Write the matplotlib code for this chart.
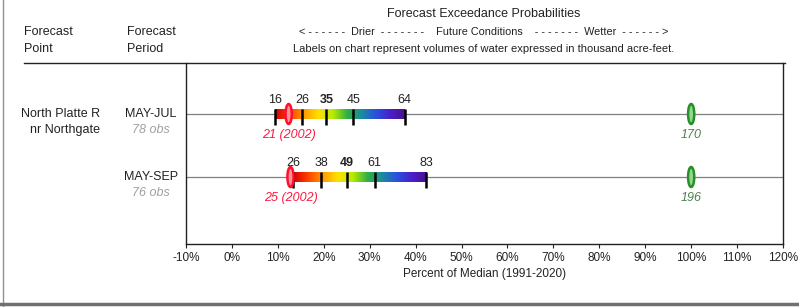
import matplotlib.pyplot as plt
import numpy as np
from matplotlib.colors import LinearSegmentedColormap
from matplotlib.patches import Ellipse

plt.rcParams['font.family'] = ['Liberation Sans', 'DejaVu Sans']

# forecast data (thousand acre-feet)
periods = ['MAY-JUL', 'MAY-SEP']
obs = ['78 obs', '76 obs']
exceed = [[16, 26, 35, 45, 64], [26, 38, 49, 61, 83]]
medians = [170, 196]
minimums = [21, 25]
min_years = [2002, 2002]
xticks = list(range(-10, 121, 10))

W, H = 799, 307
fig = plt.figure(figsize=(W / 100, H / 100), dpi=100)
ax = fig.add_axes([186 / W, 1 - 244 / H, (783 - 186) / W, (244 - 63) / H])
ax.set_xlim(-10, 120)
ax.set_ylim(244, 63)  # y in pixel units, top down

cmap = LinearSegmentedColormap.from_list(
    'wet', ['#d40000', '#ff4000', '#ff9a00', '#ffe000', '#b8ec00', '#30b040',
            '#1a8ca0', '#2a50e0', '#4a20c8', '#4a1090'])
grad = np.linspace(0, 1, 256).reshape(1, -1)

rows_y = [114, 177]
for i, y in enumerate(rows_y):
    med = medians[i]
    pct = [v / med * 100 for v in exceed[i]]
    ax.axhline(y, color='#808080', lw=0.9, zorder=1)
    ax.imshow(grad, cmap=cmap, aspect='auto', extent=(pct[0], pct[-1], y + 5, y - 5),
              zorder=2, interpolation='bilinear')
    for j, (v, p) in enumerate(zip(exceed[i], pct)):
        ax.plot([p, p], [y - 5, y + 11], color='black', lw=1.8, zorder=3,
                solid_capstyle='butt')
        ax.text(p, y - 11, str(v), ha='center', va='baseline', fontsize=9,
                color='#222222', fontweight='bold' if j == 2 else 'normal')
    # historical minimum
    pm = minimums[i] / med * 100
    ax.add_patch(Ellipse((pm, y), 1.35, 20, facecolor='#ff9090', edgecolor='#ff1030',
                         lw=1.8, zorder=4))
    ax.text(pm, y + 24, f'{minimums[i]} ({min_years[i]})', ha='center', va='baseline',
            fontsize=9, color='#ff1840', style='italic')
    # median
    ax.add_patch(Ellipse((100, y), 1.35, 20, facecolor='#90d890', edgecolor='#289028',
                         lw=1.8, zorder=4))
    ax.text(100, y + 24, str(med), ha='center', va='baseline', fontsize=9,
            color='#508050', style='italic')

ax.set_xticks(xticks)
ax.set_xticklabels([f'{t}%' for t in xticks])
ax.set_yticks([])
ax.tick_params(axis='x', direction='out', length=3, labelsize=8.5, pad=3,
               colors='#222222')
ax.set_xlabel('Percent of Median (1991-2020)', fontsize=8.5, labelpad=3, color='#222222')
for s in ['left', 'right', 'bottom']:
    ax.spines[s].set_color('#222222')
    ax.spines[s].set_linewidth(1.0)
ax.spines['top'].set_visible(False)

# header
def ftext(x, y, s, **kw):
    kw.setdefault('fontsize', 9)
    kw.setdefault('color', '#222222')
    fig.text(x / W, 1 - y / H, s, va='center', **kw)

ftext(484, 14, 'Forecast Exceedance Probabilities', ha='center')
ftext(484, 32, '< - - - - - -  Drier  - - - - - - -    Future Conditions    - - - - - - -  Wetter  - - - - - - >',
      ha='center', fontsize=7.8)
ftext(484, 49, 'Labels on chart represent volumes of water expressed in thousand acre-feet.',
      ha='center', fontsize=8)
ftext(24, 32, 'Forecast', ha='left')
ftext(24, 49, 'Point', ha='left')
ftext(127, 32, 'Forecast', ha='left')
ftext(127, 49, 'Period', ha='left')
fig.add_artist(plt.Line2D([24 / W, 785 / W], [1 - 63 / H, 1 - 63 / H], color='#222222', lw=1.0))

ftext(100, 114, 'North Platte R', ha='right')
ftext(100, 130, 'nr Northgate', ha='right')
for i, y in enumerate(rows_y):
    ftext(151, y, periods[i], ha='center')
    ftext(151, y + 16, obs[i], ha='center', color='#a0a0a0', style='italic')

# frame
fig.add_artist(plt.Line2D([3 / W, 3 / W], [0, 1], color='#909090', lw=1.0))
fig.add_artist(plt.Line2D([0, 1], [1 - 304 / H, 1 - 304 / H], color='#707070', lw=2.5))

fig.savefig('out.png', dpi=100)
